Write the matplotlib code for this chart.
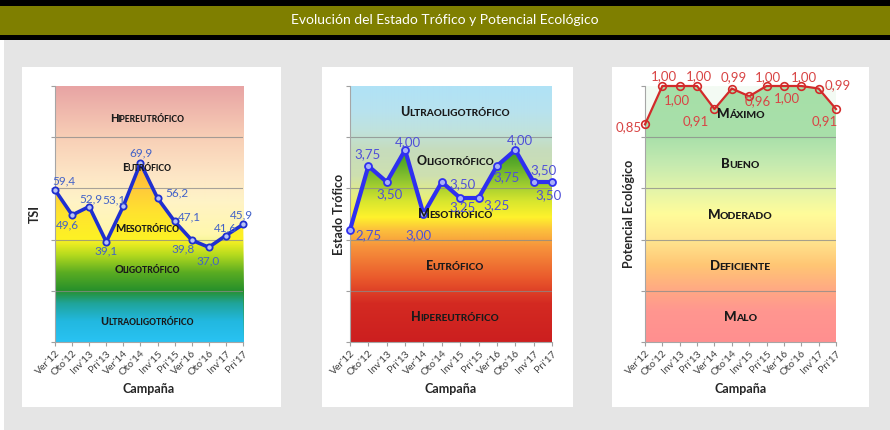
import numpy as np
import matplotlib
matplotlib.use("Agg")
import matplotlib.pyplot as plt
from matplotlib.colors import LinearSegmentedColormap
from matplotlib.patches import Rectangle
from matplotlib.transforms import offset_copy

# data
campaigns = ["Ver'12", "Oto'12", "Inv'13", "Pri'13", "Ver'14", "Oto'14",
             "Inv'15", "Pri'15", "Ver'16", "Oto'16", "Inv'17", "Pri'17"]
tsi = [59.4, 49.6, 52.9, 39.1, 53.1, 69.9, 56.2, 47.1, 39.8, 37.0, 41.6, 45.9]
estado = [2.75, 3.75, 3.50, 4.00, 3.00, 3.50, 3.25, 3.25, 3.75, 4.00, 3.50, 3.50]
potencial = [0.85, 1.00, 1.00, 1.00, 0.91, 0.99, 0.96, 1.00, 1.00, 1.00, 0.99, 0.91]

# classes, bottom to top
tsi_classes = ["Ultraoligotrófico", "Oligotrófico", "Mesotrófico", "Eutrófico", "Hipereutrófico"]
estado_classes = ["Hipereutrófico", "Eutrófico", "Mesotrófico", "Oligotrófico", "Ultraoligotrófico"]
potencial_classes = ["Malo", "Deficiente", "Moderado", "Bueno", "Máximo"]

title = "Evolución del Estado Trófico y Potencial Ecológico"

W, H = 890, 430
fig = plt.figure(figsize=(W / 100, H / 100), dpi=100)
fig.patch.set_facecolor("white")
renderer = fig.canvas.get_renderer()


def frect(x0, y0, x1, y1, color):
    # rectangle in pixel coords (y from top)
    fig.patches.append(Rectangle((x0 / W, 1 - y1 / H), (x1 - x0) / W, (y1 - y0) / H,
                                 transform=fig.transFigure, color=color, zorder=-10, lw=0))


frect(4, 40, W, H, "#e5e5e5")
frect(0, 0, W, 40, "#000000")
frect(0, 6, W, 35, "#7f7f00")
for x0, x1 in [(22, 281), (322, 573), (612, 869)]:
    frect(x0, 67, x1, 407, "white")
fig.text(445 / W, 1 - 20.5 / H, title, color="white", fontsize=10, family="Lato",
         ha="center", va="center")


def gradient(ax, stops, ylim, n, zorder):
    lo, hi = ylim
    cmap = LinearSegmentedColormap.from_list("g", [((v - lo) / (hi - lo), c) for v, c in stops])
    z = np.linspace(0, 1, 256).reshape(-1, 1)
    return ax.imshow(z, cmap=cmap, extent=[0, n - 1, lo, hi], origin="lower",
                     aspect="auto", zorder=zorder, interpolation="bilinear")


def smallcaps(ax, text, x, y, big, small):
    # first letter full size, rest as smaller capitals, centred on (x, y)
    word = text.upper()
    props = dict(fontweight="black", color="#1a1a1a", family="Lato",
                 ha="left", va="baseline", zorder=5)
    base = ax.get_yaxis_transform()
    t1 = ax.text(x, y, word[0], fontsize=big, transform=base, **props)
    t2 = ax.text(x, y, word[1:], fontsize=small, transform=base, **props)
    w1 = t1.get_window_extent(renderer).width - 0.8
    w2 = t2.get_window_extent(renderer).width
    dy = -big * 0.72 / 2 * fig.dpi / 72
    start = -(w1 + w2) / 2
    t1.set_transform(offset_copy(base, fig, x=start, y=dy, units="dots"))
    t2.set_transform(offset_copy(base, fig, x=start + w1, y=dy, units="dots"))


def panel(px, values, ylim, fill_stops, bg_stops, classes, class_y, class_x, cap,
          ylabel, ypad, line, labels, offsets, fmt):
    x0, x1 = px
    ax = fig.add_axes([x0 / W, 1 - 342 / H, (x1 - x0) / W, 256 / H])
    n = len(campaigns)
    x = np.arange(n)
    lo, hi = ylim

    gradient(ax, bg_stops, ylim, n, 0)
    im = gradient(ax, fill_stops, ylim, n, 0.5)
    poly = ax.fill_between(x, values, lo, color="none", lw=0)
    im.set_clip_path(poly.get_paths()[0], ax.transData)
    ax.set_xlim(0, n - 1)
    ax.set_ylim(lo, hi)

    edges = np.linspace(lo, hi, len(classes) + 1)
    for e in edges[1:-1]:
        ax.axhline(e, color="#8a8a8a", lw=0.8, alpha=0.75, zorder=1)

    for name, yy in zip(classes, class_y):
        smallcaps(ax, name, class_x, yy, *cap)

    ax.plot(x, values, clip_on=False, zorder=4, marker="o", **line)
    for xi, v, (dx, dy) in zip(x, values, offsets):
        ax.annotate(fmt(v), (xi, v), xytext=(dx * 0.72, dy * 0.72), textcoords="offset points",
                    ha="center", va="center", annotation_clip=False, zorder=6,
                    family="Lato", **labels)

    ax.set_xticks(x)
    ax.set_xticklabels(campaigns, rotation=45, ha="right", rotation_mode="anchor",
                       fontsize=7.5, color="#404040", family="Lato")
    ax.set_yticks(edges)
    ax.set_yticklabels([])
    ax.tick_params(length=3, color="#a0a0a0", width=0.8, pad=2)
    for s in ["top", "right"]:
        ax.spines[s].set_visible(False)
    for s in ["left", "bottom"]:
        ax.spines[s].set_color("#a6a6a6")
        ax.spines[s].set_linewidth(0.8)
    ax.set_xlabel("Campaña", fontsize=9, fontweight="bold", family="Lato",
                  color="#262626", labelpad=4)
    ax.set_ylabel(ylabel, fontsize=9, fontweight="bold", family="Lato",
                  color="#262626", labelpad=ypad)
    return ax


comma1 = lambda v: f"{v:.1f}".replace(".", ",")
comma2 = lambda v: f"{v:.2f}".replace(".", ",")

# Panel 1: TSI
panel(
    (55, 243), tsi, (0, 100),
    fill_stops=[(0, "#29c2f2"), (8, "#22b8e0"), (15, "#1fa49a"), (20, "#27902b"),
                (27, "#5aac22"), (34, "#b5da1e"), (40, "#fdf224"), (50, "#ffe42e"),
                (60, "#ffca3a"), (70, "#ffb52e"), (100, "#ff9a30")],
    bg_stops=[(0, "#29c2f2"), (20, "#27902b"), (36, "#eef27a"), (42, "#fff8ac"),
              (55, "#fff3c6"), (65, "#fde6c6"), (80, "#f8cfb6"), (100, "#e8a4a4")],
    classes=tsi_classes, class_y=[8, 28.5, 44.5, 68.5, 87.5], class_x=0.49, cap=(7.8, 6.2),
    ylabel="TSI", ypad=5,
    line=dict(color="#1f2fd0", lw=2.6, ms=4.5, mfc="#b8c2f4", mec="#1f2fd0", mew=1.3),
    labels=dict(fontsize=8.5, color="#4262c8"),
    offsets=[(9, 9), (-5, -10), (2, 8), (0, -9), (-9, 6), (1, 10), (19, 5), (15, 5),
             (-9, -9), (-1, -14), (0, 8), (-2, 10)],
    fmt=comma1,
)

# Panel 2: Estado Trófico
panel(
    (350, 552), estado, (1, 5),
    fill_stops=[(1, "#cc1f1f"), (1.6, "#d42a22"), (2.0, "#ea5a2c"), (2.5, "#f7953c"),
                (2.75, "#fcc03c"), (2.95, "#fff22c"), (3.2, "#d8e62e"), (3.5, "#96c830"),
                (3.8, "#5aaa2a"), (4.0, "#3c9a22"), (5, "#2c8a1c")],
    bg_stops=[(1, "#cc1f1f"), (2.5, "#f7953c"), (2.75, "#fcc83c"), (3.0, "#fff040"),
              (3.3, "#e4ee84"), (3.6, "#cee0b0"), (4.0, "#c6dcbc"), (4.3, "#c0e2dc"),
              (4.6, "#b8e2ee"), (5, "#b0e2f6")],
    classes=estado_classes, class_y=[1.4, 2.2, 3.0, 3.84, 4.6], class_x=0.52, cap=(9, 7.2),
    ylabel="Estado Trófico", ypad=-1.5,
    line=dict(color="#2f2ff0", lw=3.0, ms=5, mfc="#a8b0f8", mec="#2f2ff0", mew=1.3),
    labels=dict(fontsize=9.5, color="#5050d8"),
    offsets=[(18, -5), (-1, 12), (3, -12), (3, 8), (-5, -21), (21, -2), (2, -9), (18, -7),
             (10, -11), (5, 10), (10, 12), (-4, -13)],
    fmt=comma2,
)

# Panel 3: Potencial Ecológico
panel(
    (645, 836), potencial, (0, 1),
    fill_stops=[(0, "#ff8f8f"), (0.12, "#ff9690"), (0.2, "#ffa884"), (0.3, "#ffc674"),
                (0.4, "#ffe690"), (0.5, "#fffc9a"), (0.6, "#e2f4aa"), (0.7, "#c4eab0"),
                (0.8, "#a9e0aa"), (1.0, "#a6dfa8")],
    bg_stops=[(0, "#eef8ee"), (1, "#f4fbf4")],
    classes=potencial_classes, class_y=[0.1, 0.3, 0.5, 0.7, 0.895], class_x=0.5, cap=(9.5, 7.5),
    ylabel="Potencial Ecológico", ypad=2,
    line=dict(color="#d22a2a", lw=1.6, ms=5.5, mfc="none", mec="#d22a2a", mew=1.2),
    labels=dict(fontsize=9.5, color="#d84444"),
    offsets=[(-16, -3), (2, 10), (-3, -14), (2, 10), (-19, -12), (2, 11), (9, -5), (1, 9),
             (3, -12), (3, 9), (19, 3), (-11, -12)],
    fmt=comma2,
)

fig.savefig("out.png", dpi=100)
